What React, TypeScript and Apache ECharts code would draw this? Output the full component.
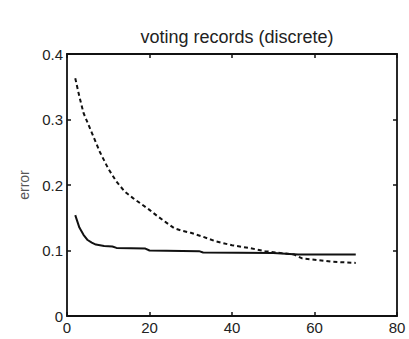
import React, { useEffect, useRef } from "react";
import * as echarts from "echarts";

const titleText = "voting records (discrete)";
const yAxisName = "error";

const dashedX = [2, 3, 4, 5, 6, 8, 10, 12, 14, 16, 18, 20, 22, 24, 26, 28, 30, 33, 36, 40, 44, 48, 52, 55, 57, 60, 64, 70];
const dashedY = [0.363, 0.335, 0.31, 0.295, 0.28, 0.25, 0.225, 0.205, 0.19, 0.18, 0.171, 0.162, 0.152, 0.143, 0.134, 0.13, 0.127, 0.121, 0.114, 0.108, 0.104, 0.099, 0.096, 0.094, 0.088, 0.086, 0.083, 0.081];

const solidX = [2, 3, 4, 5, 6, 7, 9, 11, 12, 19, 20, 32, 33, 50, 56, 70];
const solidY = [0.154, 0.135, 0.124, 0.116, 0.112, 0.109, 0.107, 0.106, 0.104, 0.103, 0.1, 0.099, 0.097, 0.096, 0.094, 0.094];

const X_MIN = 0, X_MAX = 80, X_STEP = 20;
const Y_MIN = 0, Y_MAX = 0.4, Y_STEP = 0.1;

export default function App() {
  const ref = useRef<HTMLDivElement>(null);
  useEffect(() => {
    document.body.style.margin = "0";
    const chart = echarts.init(ref.current!, null, { renderer: "svg" });
    const font = "Liberation Sans, Arial, sans-serif";
    const tickStyle = { show: true, inside: true, length: 4, lineStyle: { color: "#111", width: 1.5 } };
    const lineStyle = { color: "#111", width: 1.8 };
    chart.setOption({
      animation: false,
      backgroundColor: "#fff",
      title: {
        text: titleText,
        left: 232,
        textAlign: "center",
        top: 23,
        textStyle: { fontFamily: font, fontSize: 18, fontWeight: "normal", color: "#222" },
      },
      grid: { left: 67, right: 12, top: 54, bottom: 23 },
      xAxis: [
        {
          type: "value", min: X_MIN, max: X_MAX, interval: X_STEP, position: "bottom",
          axisLine: { show: true, onZero: false, lineStyle }, axisTick: tickStyle, splitLine: { show: false },
          axisLabel: { fontFamily: font, fontSize: 15, color: "#222", margin: 4 },
        },
        {
          type: "value", min: X_MIN, max: X_MAX, interval: X_STEP, position: "top",
          axisLine: { show: true, onZero: false, lineStyle }, axisTick: tickStyle, splitLine: { show: false },
          axisLabel: { show: false },
        },
      ],
      yAxis: [
        {
          type: "value", min: Y_MIN, max: Y_MAX, interval: Y_STEP, position: "left",
          name: yAxisName, nameLocation: "middle", nameGap: 32, nameRotate: 90,
          nameTextStyle: { fontFamily: font, fontSize: 14, color: "#555" },
          axisLine: { show: true, onZero: false, lineStyle }, axisTick: tickStyle, splitLine: { show: false },
          axisLabel: { fontFamily: font, fontSize: 15, color: "#222", margin: 4 },
        },
        {
          type: "value", min: Y_MIN, max: Y_MAX, interval: Y_STEP, position: "right",
          axisLine: { show: true, onZero: false, lineStyle }, axisTick: tickStyle, splitLine: { show: false },
          axisLabel: { show: false },
        },
      ],
      series: [
        {
          type: "line", xAxisIndex: 0, yAxisIndex: 0, showSymbol: false, symbol: "none",
          data: dashedX.map((x, i) => [x, dashedY[i]]),
          lineStyle: { color: "#111", width: 2, type: [4, 3] },
        },
        {
          type: "line", xAxisIndex: 0, yAxisIndex: 0, showSymbol: false, symbol: "none",
          data: solidX.map((x, i) => [x, solidY[i]]),
          lineStyle: { color: "#111", width: 2, type: "solid" },
        },
      ],
    });
    return () => chart.dispose();
  }, []);
  return <div ref={ref} style={{ position: "absolute", left: 0, top: 0, width: 409, height: 339 }} />;
}
